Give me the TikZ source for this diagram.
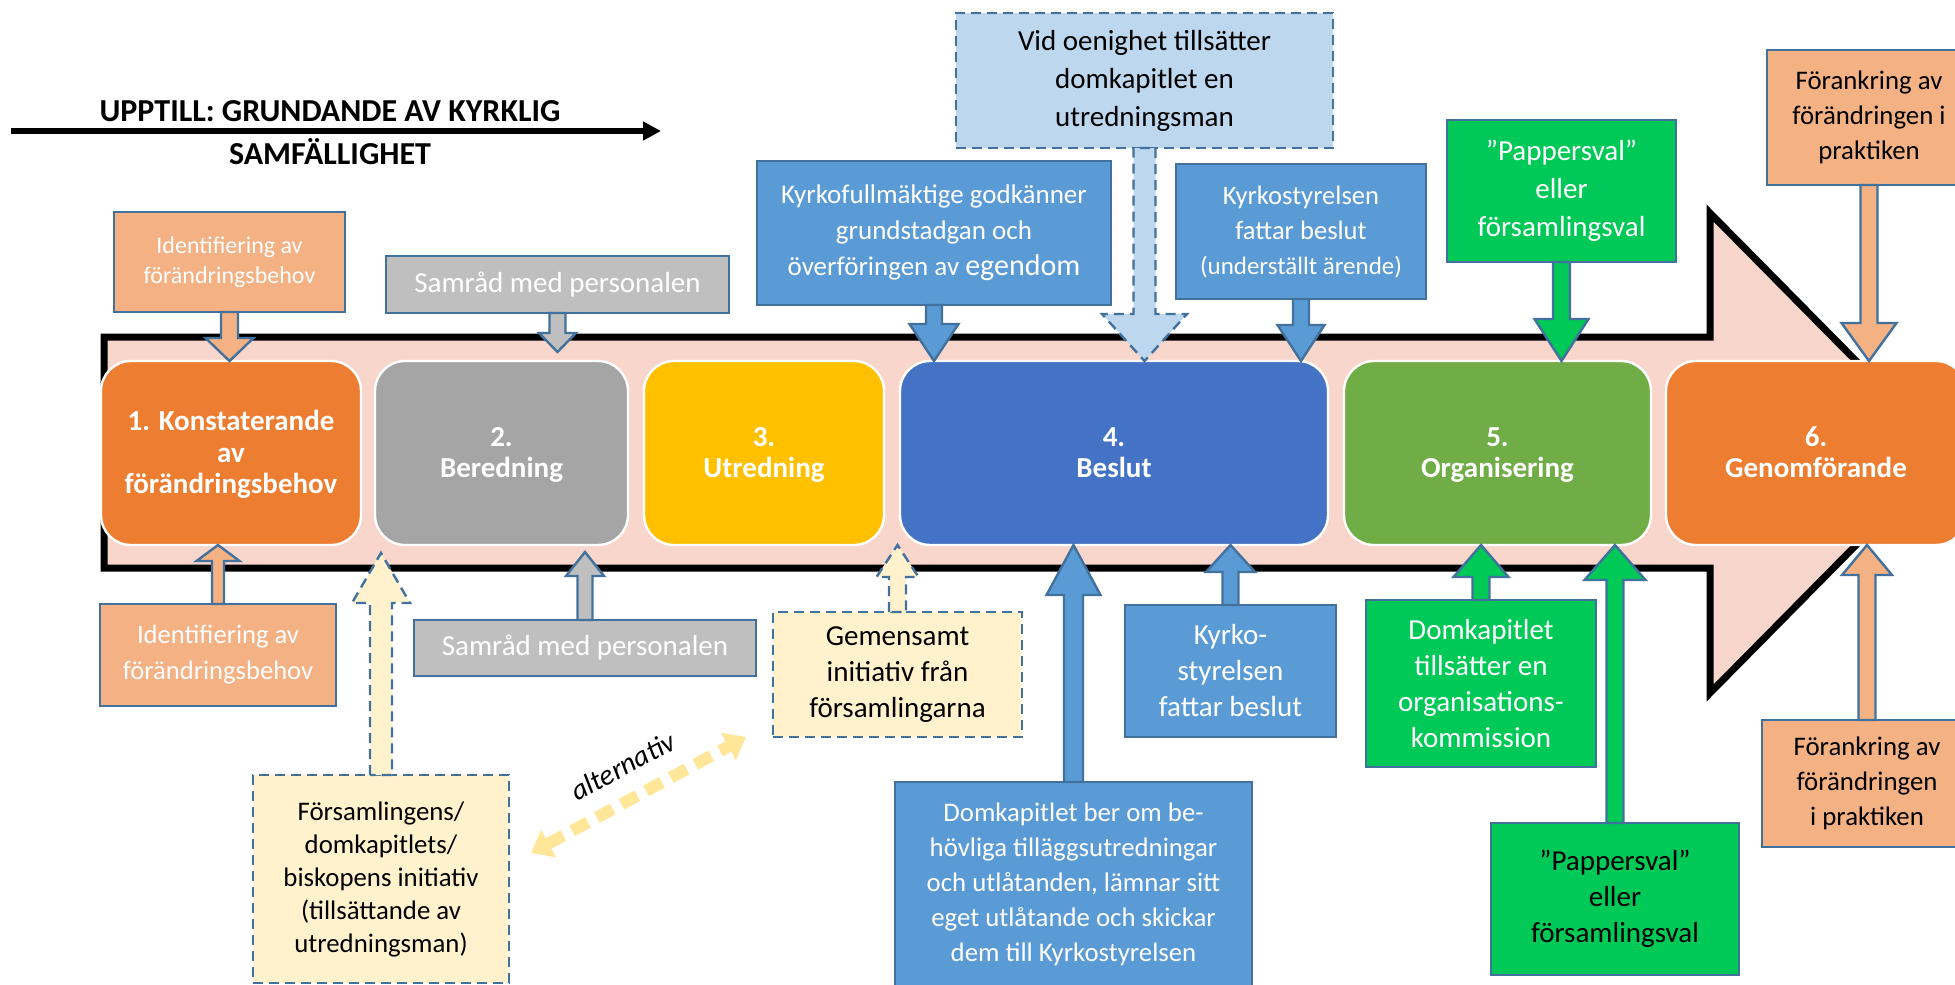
\documentclass[tikz,border=0pt]{standalone}
\usepackage{fontspec}
\setmainfont{Carlito}
\usetikzlibrary{arrows.meta, calc}
\definecolor{stageorange}{HTML}{ED7D31}
\definecolor{stagegray}{HTML}{A5A5A5}
\definecolor{stageyellow}{HTML}{FFC000}
\definecolor{stageblue}{HTML}{4472C4}
\definecolor{stagegreen}{HTML}{70AD47}
\definecolor{lightorange}{HTML}{F4B183}
\definecolor{lightgray}{HTML}{BFBFBF}
\definecolor{midblue}{HTML}{5B9BD5}
\definecolor{paleblue}{HTML}{BDD7EE}
\definecolor{paleyellow}{HTML}{FFF2CC}
\definecolor{brightgreen}{HTML}{00C957}
\definecolor{edgeblue}{HTML}{41719C}
\definecolor{bandpink}{HTML}{F8D6CB}
\definecolor{altyellow}{HTML}{FFE699}

\tikzset{
    boxsize/.style 2 args={minimum width=#1*0.5pt, minimum height=#2*0.5pt},
    stage/.style={rounded corners=15pt, draw=white, line width=1.2pt, text=white,
        font=\fontsize{14.5}{15.75}\selectfont\bfseries, align=center, inner sep=0pt, outer sep=0pt},
    infobox/.style={draw=edgeblue, line width=1.2pt, align=center, inner sep=0pt, outer sep=0pt},
    dashbox/.style={infobox, dash pattern=on 5pt off 3pt},
    blockarr/.style={draw=edgeblue, line width=1.2pt, line join=miter},
    dasharr/.style={blockarr, dash pattern=on 5pt off 3pt},
    txtbig/.style={font=\fontsize{14.5}{19}\selectfont},
    txtmid/.style={font=\fontsize{14.5}{18}\selectfont},
    txtsmall/.style={font=\fontsize{13.4}{17.5}\selectfont},
    band/.style={fill=bandpink, draw=black, line width=3.5pt, line join=miter}
}

% struts for the stage labels
\newcommand{\stagetop}{\rule{0pt}{14pt}}
\newcommand{\stagebot}{\rule[-5pt]{0pt}{5pt}}

% block arrow: [style]{from}{to}{half stem}{half head}{head length}
\newcommand{\blockarrow}[6][]{%
  \coordinate (ba-s) at (#2);
  \coordinate (ba-t) at (#3);
  \coordinate (ba-b) at ($(ba-t)!#6!(ba-s)$);
  \draw[blockarr,#1] ($(ba-s)!#4!90:(ba-t)$) -- ($(ba-b)!#4!90:(ba-t)$)
    -- ($(ba-b)!#5!90:(ba-t)$) -- (ba-t) -- ($(ba-b)!#5!-90:(ba-t)$)
    -- ($(ba-b)!#4!-90:(ba-t)$) -- ($(ba-s)!#4!-90:(ba-t)$) -- cycle;
}

\begin{document}
\begin{tikzpicture}[x=0.5pt, y=-0.5pt]

    \useasboundingbox (0,0) rectangle (1955,985);
    \clip (0,0) rectangle (1955,985);

    % Big process arrow
    \draw[band] (104,337) -- (1710,337) -- (1710,213) -- (1947,453) -- (1710,693)
        -- (1710,568) -- (104,568) -- cycle;

    % Title
    \node[font=\fontsize{16}{21.5}\selectfont\bfseries, align=center] (title) at (330,132.5)
        {UPPTILL: GRUNDANDE AV KYRKLIG\\SAMFÄLLIGHET};
    \coordinate (titleA) at (11,131);
    \coordinate (titleB) at (661,131);
    \draw[line width=3pt, -{Triangle[length=9pt,width=9pt]}] (titleA) -- (titleB);

    % Stages
    \node[stage, fill=stageorange, boxsize={260}{184}] (s1) at (231,453) {\stagetop 1. Konstaterande\\av\\förändringsbehov\stagebot};
    \node[stage, fill=stagegray, boxsize={253}{184}] (s2) at (501.5,453) {\stagetop 2.\\Beredning\stagebot};
    \node[stage, fill=stageyellow, boxsize={240}{184}] (s3) at (764,453) {\stagetop 3.\\Utredning\stagebot};
    \node[stage, fill=stageblue, boxsize={428}{184}] (s4) at (1114,453) {\stagetop 4.\\Beslut\stagebot};
    \node[stage, fill=stagegreen, boxsize={307}{184}] (s5) at (1497.5,453) {\stagetop 5.\\Organisering\stagebot};
    \node[stage, fill=stageorange, boxsize={300}{184}] (s6) at (1816,453) {\stagetop 6.\\Genomförande\stagebot};

    % Boxes above
    \node[infobox, fill=lightorange, text=white, boxsize={231}{100}, font=\fontsize{12}{15}\selectfont] (idtop) at (229.5,262)
        {Identifiering av\\förändringsbehov};
    \node[infobox, fill=lightgray, text=white, boxsize={343}{57}, txtbig] (samtop) at (557.5,284.5)
        {Samråd med personalen};
    \node[infobox, fill=midblue, text=white, boxsize={354}{144}, font=\fontsize{13.5}{18}\selectfont] (kfm) at (934,233)
        {Kyrkofullmäktige godkänner\\grundstadgan och\\överföringen av {\fontsize{15}{18}\selectfont egendom}};
    \node[dashbox, fill=paleblue, boxsize={377}{135}, txtbig] (vid) at (1144.5,80.5)
        {Vid oenighet tillsätter\\domkapitlet en\\utredningsman};
    \node[infobox, fill=midblue, text=white, boxsize={250}{135}, font=\fontsize{13.3}{17.5}\selectfont] (ksttop) at (1301,231.5)
        {Kyrkostyrelsen\\fattar beslut\\{\fontsize{12.5}{17.5}\selectfont (underställt ärende)}};
    \node[infobox, fill=brightgreen, text=white, boxsize={229}{142}, txtbig] (paptop) at (1561.5,191)
        {”Pappersval”\\eller\\församlingsval};
    \node[infobox, fill=lightorange, boxsize={204}{135}, txtsmall] (fortop) at (1869,117.5)
        {Förankring av\\förändringen i\\praktiken};

    % Boxes below
    \node[infobox, fill=lightorange, text=white, boxsize={236}{102}, font=\fontsize{13.3}{18}\selectfont] (idbot) at (218,655)
        {Identifiering av\\förändringsbehov};
    \node[dashbox, fill=paleyellow, boxsize={256}{208}, font=\fontsize{13.4}{16.5}\selectfont] (forsbot) at (381,879)
        {Församlingens/\\domkapitlets/\\biskopens initiativ\\(tillsättande av\\utredningsman)};
    \node[infobox, fill=lightgray, text=white, boxsize={342}{56}, txtbig] (sambot) at (585,648)
        {Samråd med personalen};
    \node[dashbox, fill=paleyellow, boxsize={249}{125}, txtmid] (gem) at (897.5,674.5)
        {Gemensamt\\initiativ från\\församlingarna};
    \node[infobox, fill=midblue, text=white, boxsize={357}{204}, txtsmall] (dkber) at (1073.5,884)
        {Domkapitlet ber om be-\\hövliga tilläggsutredningar\\och utlåtanden, lämnar sitt\\eget utlåtande och skickar\\dem till Kyrkostyrelsen};
    \node[infobox, fill=midblue, text=white, boxsize={211}{132}, txtmid] (kstbot) at (1230.5,671)
        {Kyrko-\\styrelsen\\fattar beslut};
    \node[infobox, fill=brightgreen, text=white, boxsize={230}{167}, txtmid] (dktill) at (1481,683.5)
        {Domkapitlet\\tillsätter en\\organisations-\\kommission};
    \node[infobox, fill=brightgreen, boxsize={248}{152}, txtmid] (papbot) at (1615,899)
        {”Pappersval”\\eller\\församlingsval};
    \node[infobox, fill=lightorange, boxsize={210}{127}, txtsmall] (forbot) at (1867,783.5)
        {Förankring av\\förändringen\\i praktiken};

    % Arrows from above
    \blockarrow[fill=lightorange]{idtop.south}{idtop.south |- s1.north}{4.25pt}{12pt}{11.5pt}
    \blockarrow[fill=lightgray]{samtop.south}{samtop.south |- 0,352}{4pt}{9.25pt}{9.5pt}
    \blockarrow[fill=midblue]{kfm.south}{kfm.south |- s4.north}{4pt}{12.25pt}{18.5pt}
    \blockarrow[dasharr, fill=paleblue]{vid.south}{vid.south |- s4.north}{5.5pt}{21.25pt}{23.5pt}
    \blockarrow[fill=midblue]{ksttop.south}{ksttop.south |- s4.north}{4pt}{11.75pt}{18pt}
    \blockarrow[fill=brightgreen]{paptop.south}{paptop.south |- s5.north}{4.25pt}{13.5pt}{21pt}
    \blockarrow[fill=lightorange]{fortop.south}{fortop.south |- s6.north}{4.25pt}{13.75pt}{19pt}

    % Arrows from below
    \blockarrow[fill=lightorange]{idbot.north}{idbot.north |- s1.south}{3pt}{10.75pt}{8pt}
    \blockarrow[dasharr, fill=paleyellow]{forsbot.north}{forsbot.north |- 0,553}{5.5pt}{14.5pt}{25pt}
    \blockarrow[fill=lightgray]{sambot.north}{sambot.north |- 0,552}{3.75pt}{9.5pt}{12pt}
    \blockarrow[dasharr, fill=paleyellow]{gem.north}{gem.north |- s3.south}{4.25pt}{10.5pt}{16pt}
    \blockarrow[fill=midblue]{dkber.north}{dkber.north |- s4.south}{4.75pt}{13.5pt}{25pt}
    \blockarrow[fill=midblue]{kstbot.north}{kstbot.north |- s4.south}{4pt}{12.25pt}{13.5pt}
    \blockarrow[fill=brightgreen]{dktill.north}{dktill.north |- s5.south}{4.25pt}{13.75pt}{16pt}
    \blockarrow[fill=brightgreen]{papbot.north}{papbot.north |- s5.south}{4.25pt}{15.25pt}{17.5pt}
    \blockarrow[fill=lightorange]{forbot.north}{forbot.north |- s6.south}{4.25pt}{12.5pt}{15pt}

    % Alternative
    \coordinate (altA) at ($(forsbot.east)+(22,-26)$);
    \coordinate (altB) at ($(gem.south west)+(-27,0)$);
    \draw[altyellow, line width=6pt, dash pattern=on 9pt off 5pt,
        {Triangle[length=10pt,width=15pt]}-{Triangle[length=10pt,width=15pt]}] (altA) --
        node[sloped, above=5pt, text=black, font=\fontsize{14.5}{17}\selectfont\itshape] (alt) {alternativ} (altB);
\end{tikzpicture}
\end{document}
